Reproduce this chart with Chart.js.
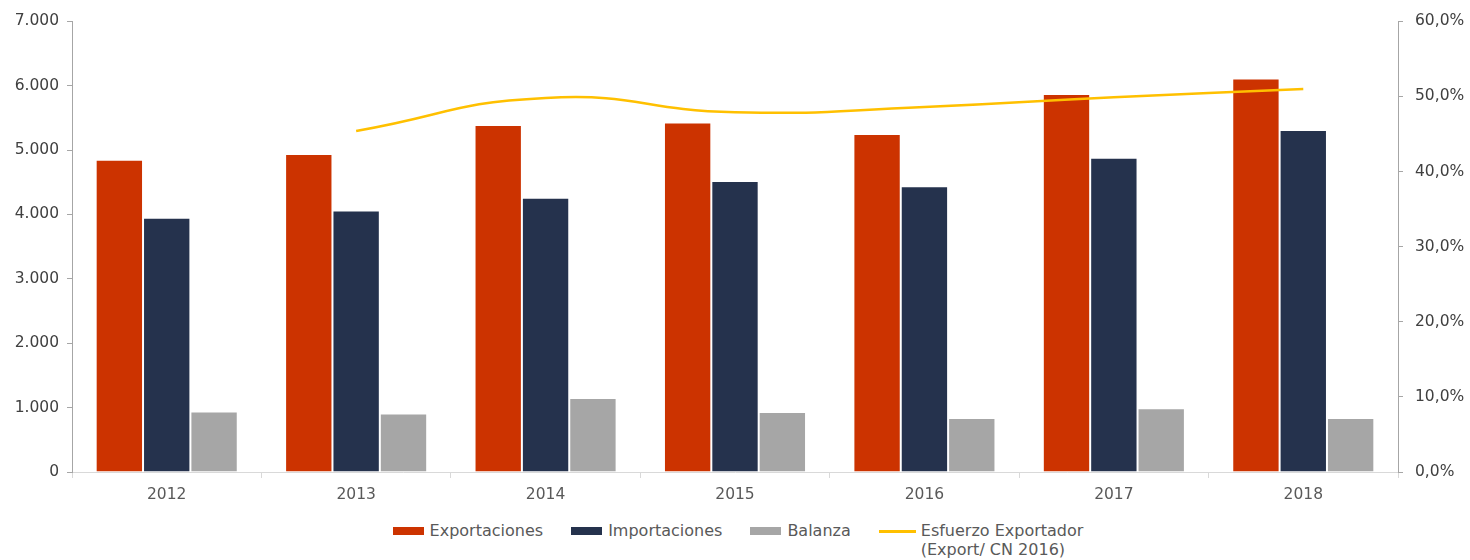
<!DOCTYPE html>
<html>
<head>
<meta charset="utf-8">
<script src="https://cdn.jsdelivr.net/npm/chart.js@4"></script>
<style>
  body { margin: 0; background: #fff; font-family: "DejaVu Sans", sans-serif; }
  #wrap { width: 1470px; height: 560px; position: relative; }
  #chartBox { position: absolute; left: 0; top: 0; width: 1470px; height: 506px; }
  #legend { position: absolute; top: 521px; left: 0; width: 1470px; display: flex; justify-content: center; padding-left: 6px; box-sizing: border-box; font-size: 16px; color: #595959; }
  .item { display: flex; align-items: flex-start; margin: 0 14px; }
  .sw { width: 31px; height: 8px; margin: 6px 6px 0 0; }
  .ln { width: 37px; height: 3px; margin: 9px 5px 0 0; }
  .txt { line-height: 19px; }
</style>
</head>
<body>
<div id="wrap">
  <div id="chartBox"><canvas id="chart"></canvas></div>
  <div id="legend"></div>
</div>
<script>
const years = ["2012", "2013", "2014", "2015", "2016", "2017", "2018"];
const exportaciones = [4850, 4940, 5390, 5430, 5250, 5870, 6110];
const importaciones = [3950, 4060, 4260, 4520, 4440, 4880, 5310];
const balanza = [940, 910, 1150, 930, 840, 990, 840];
const esfuerzo = [null, 45.4, 49.8, 47.9, 48.6, 49.9, 51.0];
const seriesNames = ["Exportaciones", "Importaciones", "Balanza", "Esfuerzo Exportador\n(Export/ CN 2016)"];
const colors = ["#CC3300", "#25324D", "#A6A6A6", "#FFC000"];

document.addEventListener("DOMContentLoaded", function () {
    const ctx = document.getElementById("chart").getContext("2d");
    const tickFont = { family: "DejaVu Sans", size: 15.5 };

    function thousands(v) {
        return String(v).replace(/\B(?=(\d{3})+(?!\d))/g, ".");
    }

    new Chart(ctx, {
        type: "bar",
        data: {
            labels: years,
            datasets: [
                { label: seriesNames[0], data: exportaciones, backgroundColor: colors[0], borderColor: "#ffffff", borderWidth: 1, yAxisID: "y", order: 2 },
                { label: seriesNames[1], data: importaciones, backgroundColor: colors[1], borderColor: "#ffffff", borderWidth: 1, yAxisID: "y", order: 2 },
                { label: seriesNames[2], data: balanza, backgroundColor: colors[2], borderColor: "#ffffff", borderWidth: 1, yAxisID: "y", order: 2 },
                {
                    type: "line", label: seriesNames[3], data: esfuerzo, borderColor: colors[3], borderWidth: 2.5,
                    pointRadius: 0, tension: 0.5, spanGaps: true, fill: false, yAxisID: "y1", order: 1
                },
            ],
        },
        options: {
            responsive: true,
            maintainAspectRatio: false,
            animation: false,
            layout: { padding: { top: 20 } },
            plugins: { legend: { display: false }, tooltip: { enabled: false } },
            datasets: { bar: { categoryPercentage: 0.75, barPercentage: 1.0 } },
            scales: {
                x: {
                    grid: { offset: true, drawOnChartArea: false, drawTicks: true, tickLength: 6, color: "#D9D9D9" },
                    border: { display: true, color: "#D9D9D9" },
                    ticks: { color: "#595959", font: tickFont, padding: 8 },
                    afterFit: function (s) { s.height = 34; },
                },
                y: {
                    position: "left",
                    min: 0, max: 7000,
                    ticks: { stepSize: 1000, color: "#404040", font: tickFont, padding: 8, callback: (v) => thousands(v) },
                    grid: { drawOnChartArea: false, drawTicks: true, tickLength: 5, color: "#A6A6A6" },
                    border: { display: true, color: "#A6A6A6" },
                    afterFit: function (s) { s.width = 72; },
                },
                y1: {
                    position: "right",
                    min: 0, max: 60,
                    ticks: { stepSize: 10, color: "#404040", font: tickFont, padding: 12, callback: (v) => v.toFixed(1).replace(".", ",") + "%" },
                    grid: { drawOnChartArea: false, drawTicks: true, tickLength: 5, color: "#A6A6A6" },
                    border: { display: true, color: "#A6A6A6" },
                    afterFit: function (s) { s.width = 72; },
                },
            },
        },
    });

    // HTML legend (last entry needs two lines)
    const legend = document.getElementById("legend");
    legend.innerHTML = seriesNames.map((name, i) => `
        <div class="item">
            <div class="${i === 3 ? "ln" : "sw"}" style="background:${colors[i]}"></div>
            <div class="txt">${name.replace("\n", "<br>")}</div>
        </div>`).join("");
});
</script>
</body>
</html>
